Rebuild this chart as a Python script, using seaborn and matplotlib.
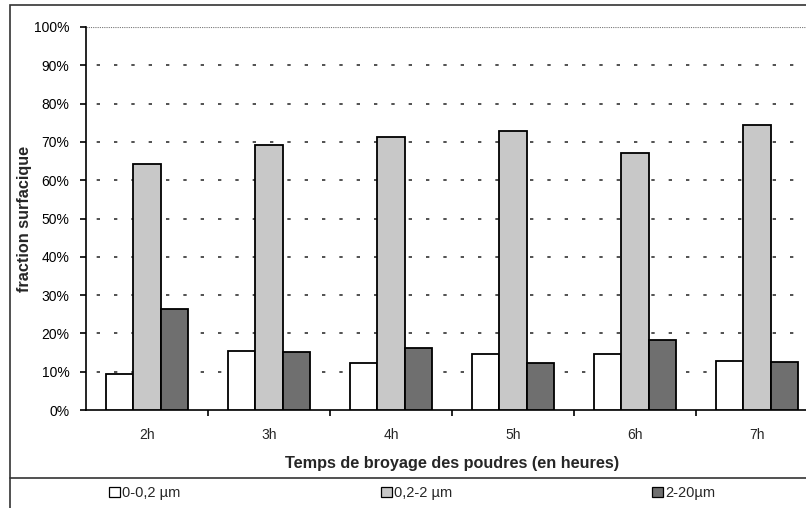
#!/usr/bin/env python3
# Fraction surfacique par classe de taille vs temps de broyage

import pandas as pd
import matplotlib
matplotlib.use("Agg")
import matplotlib.pyplot as plt
import matplotlib.patches as mpatches
from matplotlib.ticker import PercentFormatter, FixedLocator
import seaborn as sns

# DATA
temps = ["2h", "3h", "4h", "5h", "6h", "7h"]
classes = ["0-0,2 µm", "0,2-2 µm", "2-20µm"]
frac_0_02 = [0.094, 0.154, 0.123, 0.146, 0.146, 0.128]
frac_02_2 = [0.642, 0.693, 0.712, 0.729, 0.670, 0.745]
frac_2_20 = [0.264, 0.152, 0.163, 0.123, 0.183, 0.125]
couleurs = ["#ffffff", "#c8c8c8", "#6f6f6f"]

def main():
    sns.set_style("white")
    plt.rcParams["font.family"] = ["Liberation Sans", "DejaVu Sans"]

    df = pd.DataFrame({
        "temps": temps * 3,
        "classe": [classes[0]] * 6 + [classes[1]] * 6 + [classes[2]] * 6,
        "fraction": frac_0_02 + frac_02_2 + frac_2_20,
    })

    fig = plt.figure(figsize=(8.06, 5.08), dpi=100)
    W, H = 806, 508
    ax = fig.add_axes([86 / W, 1 - 410 / H, 732 / W, 383 / H])

    sns.barplot(data=df, x="temps", y="fraction", hue="classe",
                hue_order=classes, order=temps, palette=couleurs,
                width=0.67, edgecolor="black", linewidth=1.3,
                legend=False, ax=ax, zorder=3)

    ax.set_xlim(-0.5, 5.5)
    ax.set_ylim(0, 1)
    ax.yaxis.set_major_formatter(PercentFormatter(1.0, decimals=0))
    ax.set_yticks([i / 10 for i in range(11)])

    # grid: sparse dashes, fine dotted line at 100%
    for v in [i / 10 for i in range(1, 10)]:
        ax.axhline(v, color="#333333", lw=1.2, ls=(4, (2, 8.4)), zorder=1)
    ax.axhline(1.0, color="#777777", lw=0.8, ls=(0, (1, 1)), zorder=1)

    for s in ["top", "right"]:
        ax.spines[s].set_visible(False)
    for s in ["left", "bottom"]:
        ax.spines[s].set_color("black")
        ax.spines[s].set_linewidth(1.2)

    ax.tick_params(axis="y", direction="out", length=4, width=1.2,
                   labelsize=10, pad=8, left=True, colors="black")
    ax.tick_params(axis="x", which="major", length=0, labelsize=10, pad=13)
    ax.xaxis.set_minor_locator(FixedLocator([0.5, 1.5, 2.5, 3.5, 4.5]))
    ax.tick_params(axis="x", which="minor", direction="out", length=4,
                   width=1.2, bottom=True, color="black")

    ax.set_xlabel("Temps de broyage des poudres (en heures)",
                  fontsize=11.7, fontweight="bold", labelpad=10)
    ax.set_ylabel("fraction surfacique", fontsize=11.7, fontweight="bold")
    ax.yaxis.set_label_coords(-0.074, 0.50)

    # outer frame and legend separator
    fig.patches.append(mpatches.Rectangle((10 / W, -0.1), 1.2, 1.1 - 5 / H,
                                          transform=fig.transFigure,
                                          fill=False, ec="#333333", lw=1.2))
    fig.add_artist(plt.Line2D([10 / W, 1.0], [1 - 478 / H] * 2,
                              transform=fig.transFigure, color="#333333",
                              lw=1.2))

    # legend entries spread across the bottom strip
    xs = [109, 381, 652]
    for lab, col, x in zip(classes, couleurs, xs):
        h = mpatches.Patch(facecolor=col, edgecolor="black", lw=0.9, label=lab)
        fig.legend(handles=[h], loc="center left",
                   bbox_to_anchor=(x / W, 1 - 493 / H), frameon=False,
                   fontsize=10.5, handlelength=0.75, handleheight=0.75,
                   handletextpad=0.15, borderpad=0, borderaxespad=0)

    fig.savefig("out.png", dpi=100)
    plt.close(fig)

if __name__ == "__main__":
    main()
